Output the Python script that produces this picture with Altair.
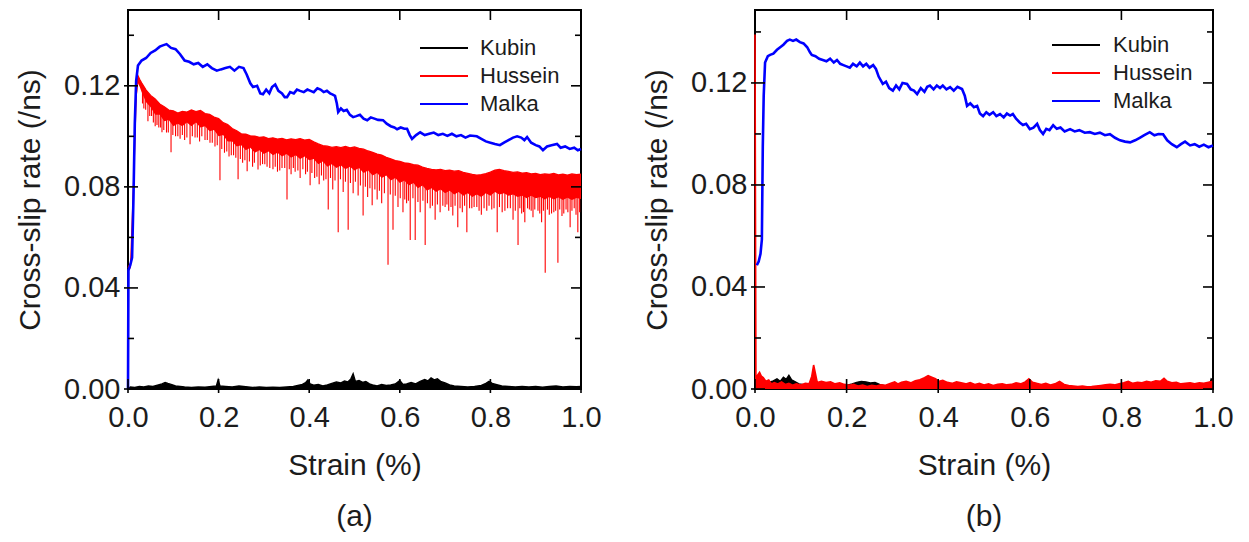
import altair as alt
import pandas as pd

FONT = "Liberation Sans"
TEXT = "#1c1c1c"
SERIES = ["Kubin", "Hussein", "Malka"]
COLORS = ["#000000", "#ff0000", "#0000ff"]
X_TICKS = [0.0, 0.2, 0.4, 0.6, 0.8, 1.0]
Y_TICKS = [0.00, 0.04, 0.08, 0.12]
Y_MINOR = [0.02, 0.06, 0.10, 0.14]
X_TITLE = "Strain (%)"
Y_TITLE = "Cross-slip rate (/ns)"
PANEL_LABELS = ["(a)", "(b)"]

# ---------------- panel (a) ----------------
MALKA_A = [
    (0.000, 0.000), (0.001, 0.047), (0.005, 0.049), (0.009, 0.052), (0.012, 0.075), (0.015, 0.105),
    (0.018, 0.122), (0.022, 0.128), (0.030, 0.130), (0.040, 0.131), (0.050, 0.133), (0.060, 0.134),
    (0.070, 0.1355), (0.077, 0.136), (0.085, 0.1365), (0.095, 0.135), (0.105, 0.1345), (0.115, 0.1325),
    (0.125, 0.130), (0.135, 0.1295), (0.145, 0.1285), (0.155, 0.129), (0.165, 0.1275), (0.175, 0.1285),
    (0.185, 0.127), (0.196, 0.126), (0.205, 0.1265), (0.215, 0.127), (0.225, 0.1275), (0.235, 0.126),
    (0.245, 0.1275), (0.255, 0.127), (0.262, 0.1245), (0.270, 0.121), (0.276, 0.1195), (0.285, 0.120),
    (0.292, 0.117), (0.298, 0.1167), (0.305, 0.1185), (0.312, 0.117), (0.318, 0.1195), (0.325, 0.1205),
    (0.332, 0.118), (0.340, 0.117), (0.346, 0.1155), (0.351, 0.1155), (0.358, 0.1175), (0.366, 0.117),
    (0.373, 0.1185), (0.380, 0.118), (0.388, 0.1175), (0.396, 0.1185), (0.403, 0.118), (0.410, 0.1175),
    (0.418, 0.119), (0.425, 0.1185), (0.432, 0.1175), (0.439, 0.118), (0.446, 0.117), (0.452, 0.1165),
    (0.457, 0.116), (0.461, 0.113), (0.464, 0.1096), (0.470, 0.111), (0.476, 0.110), (0.483, 0.1105),
    (0.490, 0.1085), (0.497, 0.1076), (0.504, 0.108), (0.512, 0.1085), (0.520, 0.107), (0.528, 0.1064),
    (0.536, 0.1075), (0.544, 0.107), (0.552, 0.1065), (0.563, 0.1064), (0.571, 0.105), (0.580, 0.104),
    (0.588, 0.1035), (0.594, 0.1028), (0.602, 0.1035), (0.610, 0.103), (0.616, 0.103), (0.622, 0.1005),
    (0.627, 0.099), (0.636, 0.1005), (0.645, 0.1016), (0.655, 0.1005), (0.665, 0.101), (0.675, 0.1015),
    (0.685, 0.1005), (0.695, 0.101), (0.705, 0.1002), (0.715, 0.101), (0.725, 0.100), (0.735, 0.1005),
    (0.745, 0.0995), (0.755, 0.1003), (0.770, 0.100), (0.780, 0.099), (0.790, 0.098), (0.800, 0.0975),
    (0.810, 0.097), (0.821, 0.0965), (0.830, 0.0975), (0.840, 0.0985), (0.850, 0.0995), (0.859, 0.100),
    (0.868, 0.0995), (0.875, 0.0985), (0.881, 0.0997), (0.890, 0.0975), (0.900, 0.0965), (0.908, 0.096),
    (0.916, 0.0945), (0.925, 0.096), (0.935, 0.0965), (0.947, 0.097), (0.955, 0.0955), (0.965, 0.096),
    (0.975, 0.095), (0.985, 0.0955), (0.993, 0.0945), (1.000, 0.095),
]

# Hussein (a): upper edge and lower edge of the dense noisy band (strain, upper, lower)
HUSSEIN_A_BAND = [
    (0.000, 0.048, 0.046), (0.006, 0.050, 0.048), (0.012, 0.080, 0.078), (0.018, 0.116, 0.113),
    (0.022, 0.124, 0.121), (0.026, 0.1225, 0.1195), (0.030, 0.1212, 0.1175), (0.040, 0.1183, 0.1135),
    (0.050, 0.1162, 0.1115), (0.060, 0.1148, 0.1085), (0.070, 0.1128, 0.1085), (0.080, 0.1117, 0.106),
    (0.090, 0.1104, 0.1065), (0.100, 0.1101, 0.104), (0.110, 0.1092, 0.105), (0.120, 0.1099, 0.104),
    (0.130, 0.1096, 0.1055), (0.140, 0.1104, 0.104), (0.150, 0.1098, 0.1055), (0.160, 0.1102, 0.1035),
    (0.170, 0.1090, 0.104), (0.180, 0.1087, 0.102), (0.190, 0.1076, 0.1025), (0.200, 0.1070, 0.100),
    (0.210, 0.1054, 0.1005), (0.220, 0.1047, 0.098), (0.230, 0.1031, 0.098), (0.240, 0.1022, 0.096),
    (0.250, 0.1010, 0.0965), (0.260, 0.1009, 0.0945), (0.270, 0.1002, 0.0955), (0.280, 0.1001, 0.0935),
    (0.290, 0.0996, 0.0945), (0.300, 0.0998, 0.093), (0.310, 0.0991, 0.094), (0.320, 0.0994, 0.0925),
    (0.330, 0.0989, 0.0935), (0.340, 0.0992, 0.092), (0.350, 0.0986, 0.093), (0.360, 0.0990, 0.0915),
    (0.370, 0.0987, 0.0925), (0.380, 0.0991, 0.091), (0.390, 0.0985, 0.092), (0.400, 0.0988, 0.0905),
    (0.410, 0.0978, 0.091), (0.420, 0.0970, 0.089), (0.430, 0.0963, 0.090), (0.440, 0.0961, 0.088),
    (0.450, 0.0956, 0.089), (0.460, 0.0959, 0.0875), (0.470, 0.0955, 0.0885), (0.480, 0.0960, 0.087),
    (0.490, 0.0954, 0.088), (0.500, 0.0958, 0.0865), (0.510, 0.0952, 0.0875), (0.520, 0.0949, 0.0855),
    (0.530, 0.0942, 0.0865), (0.540, 0.0937, 0.0845), (0.550, 0.0930, 0.0855), (0.560, 0.0926, 0.0835),
    (0.570, 0.0917, 0.0845), (0.580, 0.0911, 0.0825), (0.590, 0.0904, 0.0835), (0.600, 0.0901, 0.0815),
    (0.610, 0.0895, 0.0825), (0.620, 0.0893, 0.0805), (0.630, 0.0888, 0.0815), (0.640, 0.0886, 0.0795),
    (0.650, 0.0878, 0.0805), (0.660, 0.0873, 0.0785), (0.670, 0.0869, 0.0795), (0.680, 0.0867, 0.078),
    (0.690, 0.0869, 0.079), (0.700, 0.0864, 0.0775), (0.710, 0.0866, 0.0785), (0.720, 0.0862, 0.077),
    (0.730, 0.0864, 0.078), (0.740, 0.0857, 0.0765), (0.750, 0.0853, 0.0775), (0.760, 0.0849, 0.076),
    (0.770, 0.0846, 0.077), (0.780, 0.0848, 0.076), (0.790, 0.0852, 0.0775), (0.800, 0.0858, 0.0765),
    (0.810, 0.0866, 0.078), (0.820, 0.0869, 0.077), (0.830, 0.0864, 0.0775), (0.840, 0.0861, 0.0765),
    (0.850, 0.0857, 0.077), (0.860, 0.0859, 0.076), (0.870, 0.0854, 0.0765), (0.880, 0.0856, 0.0755),
    (0.890, 0.0851, 0.0765), (0.900, 0.0853, 0.0755), (0.910, 0.0848, 0.076), (0.920, 0.0851, 0.075),
    (0.930, 0.0849, 0.076), (0.940, 0.0853, 0.075), (0.950, 0.0847, 0.0758), (0.960, 0.0850, 0.0748),
    (0.970, 0.0846, 0.0757), (0.980, 0.0851, 0.0748), (0.990, 0.0848, 0.0756), (1.000, 0.0850, 0.0752),
]

# Hussein (a): downward spikes (strain, top, bottom)
HUSSEIN_A_SPIKES = [
    (0.032, 0.119, 0.113), (0.035, 0.119, 0.111), (0.039, 0.117, 0.1105), (0.044, 0.116, 0.106),
    (0.048, 0.115, 0.108), (0.052, 0.114, 0.108), (0.056, 0.113, 0.1055), (0.060, 0.113, 0.104),
    (0.064, 0.112, 0.1045), (0.068, 0.111, 0.1035), (0.072, 0.111, 0.1035), (0.075, 0.110, 0.1016),
    (0.079, 0.110, 0.1025), (0.085, 0.109, 0.1015), (0.089, 0.108, 0.1015), (0.095, 0.108, 0.0937),
    (0.099, 0.108, 0.1005), (0.105, 0.108, 0.100), (0.110, 0.107, 0.100), (0.115, 0.107, 0.099),
    (0.120, 0.107, 0.1005), (0.125, 0.107, 0.0985), (0.130, 0.107, 0.0995), (0.137, 0.107, 0.0969),
    (0.142, 0.107, 0.100), (0.148, 0.107, 0.0995), (0.153, 0.107, 0.0995), (0.158, 0.107, 0.098),
    (0.163, 0.107, 0.100), (0.170, 0.106, 0.0985), (0.175, 0.106, 0.0985), (0.181, 0.105, 0.0975),
    (0.186, 0.105, 0.0975), (0.192, 0.104, 0.096), (0.197, 0.104, 0.0965), (0.203, 0.103, 0.0826),
    (0.207, 0.102, 0.095), (0.213, 0.102, 0.0935), (0.218, 0.101, 0.094), (0.223, 0.101, 0.092),
    (0.228, 0.100, 0.0925), (0.233, 0.100, 0.0925), (0.238, 0.099, 0.0915), (0.243, 0.099, 0.083),
    (0.248, 0.098, 0.091), (0.253, 0.098, 0.0895), (0.258, 0.097, 0.0905), (0.263, 0.097, 0.0862),
    (0.268, 0.097, 0.090), (0.275, 0.097, 0.088), (0.279, 0.096, 0.0895), (0.287, 0.096, 0.0869),
    (0.292, 0.096, 0.0885), (0.297, 0.096, 0.089), (0.302, 0.096, 0.089), (0.307, 0.096, 0.088),
    (0.313, 0.095, 0.0875), (0.320, 0.095, 0.087), (0.325, 0.095, 0.088), (0.330, 0.095, 0.086),
    (0.335, 0.095, 0.0865), (0.340, 0.095, 0.0875), (0.346, 0.094, 0.0875), (0.351, 0.094, 0.075),
    (0.356, 0.094, 0.087), (0.360, 0.094, 0.085), (0.365, 0.094, 0.0875), (0.369, 0.094, 0.086),
    (0.375, 0.094, 0.0865), (0.380, 0.094, 0.0835), (0.386, 0.094, 0.087), (0.392, 0.093, 0.085),
    (0.396, 0.093, 0.086), (0.402, 0.093, 0.0806), (0.406, 0.093, 0.0855), (0.412, 0.092, 0.0835),
    (0.417, 0.092, 0.084), (0.422, 0.092, 0.081), (0.427, 0.091, 0.0845), (0.432, 0.091, 0.0825),
    (0.437, 0.091, 0.083), (0.442, 0.090, 0.071), (0.447, 0.090, 0.0835), (0.452, 0.090, 0.079),
    (0.457, 0.090, 0.0825), (0.464, 0.090, 0.062), (0.469, 0.089, 0.083), (0.475, 0.089, 0.078),
    (0.480, 0.089, 0.082), (0.486, 0.089, 0.063), (0.491, 0.089, 0.0815), (0.497, 0.089, 0.0775),
    (0.502, 0.089, 0.082), (0.508, 0.088, 0.0766), (0.513, 0.088, 0.0805), (0.519, 0.088, 0.0687),
    (0.524, 0.088, 0.080), (0.529, 0.087, 0.076), (0.534, 0.087, 0.0795), (0.539, 0.087, 0.0727),
    (0.545, 0.087, 0.079), (0.550, 0.086, 0.075), (0.555, 0.086, 0.0785), (0.560, 0.086, 0.0735),
    (0.566, 0.085, 0.0775), (0.574, 0.085, 0.0492), (0.579, 0.085, 0.077), (0.585, 0.084, 0.063),
    (0.590, 0.084, 0.0765), (0.596, 0.084, 0.072), (0.601, 0.083, 0.0755), (0.607, 0.083, 0.070),
    (0.611, 0.083, 0.075), (0.615, 0.083, 0.0735), (0.619, 0.083, 0.0745), (0.623, 0.082, 0.059),
    (0.629, 0.082, 0.0755), (0.634, 0.082, 0.059), (0.640, 0.082, 0.074), (0.645, 0.081, 0.070),
    (0.651, 0.081, 0.0745), (0.656, 0.081, 0.057), (0.661, 0.081, 0.0735), (0.667, 0.080, 0.0715),
    (0.672, 0.080, 0.0725), (0.678, 0.080, 0.067), (0.683, 0.080, 0.073), (0.689, 0.080, 0.070),
    (0.695, 0.080, 0.0725), (0.700, 0.080, 0.072), (0.704, 0.080, 0.073), (0.708, 0.080, 0.0705),
    (0.713, 0.080, 0.072), (0.717, 0.080, 0.0687), (0.722, 0.080, 0.0725), (0.728, 0.079, 0.064),
    (0.733, 0.079, 0.0715), (0.738, 0.079, 0.070), (0.743, 0.079, 0.0725), (0.748, 0.079, 0.062),
    (0.754, 0.079, 0.0715), (0.759, 0.079, 0.0715), (0.764, 0.079, 0.072), (0.770, 0.079, 0.072),
    (0.775, 0.079, 0.0705), (0.780, 0.079, 0.069), (0.786, 0.079, 0.0715), (0.792, 0.079, 0.0705),
    (0.797, 0.079, 0.0725), (0.803, 0.079, 0.071), (0.808, 0.079, 0.0715), (0.815, 0.079, 0.062),
    (0.820, 0.079, 0.072), (0.826, 0.079, 0.070), (0.832, 0.079, 0.0705), (0.838, 0.079, 0.0715),
    (0.844, 0.079, 0.0715), (0.850, 0.079, 0.067), (0.855, 0.079, 0.0705), (0.861, 0.079, 0.057),
    (0.865, 0.078, 0.0715), (0.869, 0.078, 0.0695), (0.873, 0.078, 0.070), (0.876, 0.078, 0.066),
    (0.882, 0.078, 0.0715), (0.886, 0.078, 0.071), (0.890, 0.078, 0.0705), (0.894, 0.078, 0.068),
    (0.898, 0.078, 0.071), (0.905, 0.078, 0.0705), (0.909, 0.078, 0.0695), (0.913, 0.078, 0.066),
    (0.917, 0.078, 0.0705), (0.921, 0.078, 0.046), (0.926, 0.078, 0.071), (0.930, 0.078, 0.069),
    (0.935, 0.078, 0.0695), (0.940, 0.078, 0.070), (0.944, 0.078, 0.0705), (0.949, 0.078, 0.050),
    (0.953, 0.078, 0.071), (0.958, 0.078, 0.0685), (0.962, 0.078, 0.0695), (0.967, 0.078, 0.071),
    (0.971, 0.078, 0.070), (0.976, 0.078, 0.064), (0.980, 0.078, 0.0705), (0.985, 0.078, 0.0715),
    (0.989, 0.078, 0.069), (0.993, 0.078, 0.062), (0.997, 0.078, 0.070),
]

KUBIN_A = [
    (0.000, 0.0000), (0.005, 0.0008), (0.015, 0.0006), (0.025, 0.0010), (0.035, 0.0008), (0.045, 0.0012),
    (0.055, 0.0010), (0.065, 0.0015), (0.075, 0.0020), (0.082, 0.0026), (0.088, 0.0022), (0.095, 0.0018),
    (0.105, 0.0012), (0.115, 0.0010), (0.125, 0.0008), (0.140, 0.0006), (0.155, 0.0008), (0.170, 0.0007),
    (0.185, 0.0010), (0.195, 0.0012), (0.199, 0.0036), (0.203, 0.0012), (0.215, 0.0010), (0.230, 0.0008),
    (0.245, 0.0012), (0.260, 0.0009), (0.275, 0.0006), (0.290, 0.0008), (0.305, 0.0006), (0.320, 0.0007),
    (0.335, 0.0006), (0.350, 0.0008), (0.365, 0.0010), (0.375, 0.0014), (0.385, 0.0018), (0.392, 0.0025),
    (0.397, 0.0036), (0.402, 0.0020), (0.410, 0.0015), (0.420, 0.0018), (0.430, 0.0012), (0.440, 0.0016),
    (0.450, 0.0022), (0.460, 0.0028), (0.470, 0.0024), (0.478, 0.0032), (0.485, 0.0028), (0.492, 0.0040),
    (0.497, 0.0060), (0.502, 0.0030), (0.510, 0.0034), (0.518, 0.0026), (0.525, 0.0030), (0.533, 0.0020),
    (0.540, 0.0016), (0.550, 0.0012), (0.560, 0.0018), (0.570, 0.0014), (0.580, 0.0016), (0.590, 0.0020),
    (0.600, 0.0034), (0.607, 0.0018), (0.615, 0.0020), (0.625, 0.0026), (0.635, 0.0020), (0.645, 0.0030),
    (0.655, 0.0038), (0.662, 0.0032), (0.669, 0.0044), (0.676, 0.0036), (0.683, 0.0040), (0.690, 0.0030),
    (0.700, 0.0024), (0.710, 0.0016), (0.720, 0.0012), (0.735, 0.0010), (0.750, 0.0008), (0.765, 0.0010),
    (0.780, 0.0014), (0.790, 0.0022), (0.797, 0.0030), (0.804, 0.0022), (0.812, 0.0018), (0.825, 0.0012),
    (0.840, 0.0010), (0.855, 0.0008), (0.870, 0.0010), (0.885, 0.0008), (0.900, 0.0010), (0.915, 0.0007),
    (0.930, 0.0010), (0.945, 0.0012), (0.960, 0.0008), (0.975, 0.0010), (0.990, 0.0009), (1.000, 0.0010),
]

# ---------------- panel (b) ----------------
MALKA_B = [
    (0.004, 0.0485), (0.008, 0.050), (0.012, 0.053), (0.015, 0.0586), (0.017, 0.095), (0.019, 0.115),
    (0.022, 0.128), (0.028, 0.1305), (0.033, 0.131), (0.040, 0.1315), (0.048, 0.133), (0.055, 0.134),
    (0.062, 0.135), (0.070, 0.1365), (0.076, 0.137), (0.083, 0.1365), (0.090, 0.137), (0.098, 0.136),
    (0.106, 0.1355), (0.114, 0.134), (0.120, 0.132), (0.124, 0.131), (0.132, 0.1305), (0.140, 0.1295),
    (0.148, 0.129), (0.156, 0.1285), (0.164, 0.1295), (0.172, 0.128), (0.179, 0.129), (0.186, 0.1275),
    (0.193, 0.127), (0.200, 0.1265), (0.207, 0.126), (0.214, 0.1275), (0.222, 0.1265), (0.229, 0.128),
    (0.236, 0.1265), (0.243, 0.1275), (0.250, 0.126), (0.258, 0.127), (0.264, 0.1255), (0.270, 0.1225),
    (0.279, 0.1196), (0.286, 0.1205), (0.293, 0.118), (0.301, 0.117), (0.308, 0.119), (0.315, 0.1175),
    (0.322, 0.120), (0.332, 0.1196), (0.340, 0.1175), (0.347, 0.117), (0.354, 0.1156), (0.362, 0.118),
    (0.370, 0.1165), (0.376, 0.1185), (0.382, 0.119), (0.390, 0.1175), (0.397, 0.119), (0.404, 0.118),
    (0.410, 0.119), (0.418, 0.1175), (0.426, 0.1184), (0.434, 0.117), (0.442, 0.1185), (0.452, 0.1176),
    (0.458, 0.115), (0.463, 0.111), (0.470, 0.112), (0.478, 0.1105), (0.485, 0.111), (0.491, 0.108),
    (0.498, 0.107), (0.505, 0.1085), (0.512, 0.1075), (0.520, 0.1085), (0.527, 0.107), (0.535, 0.1078),
    (0.543, 0.1065), (0.550, 0.108), (0.557, 0.1072), (0.563, 0.1078), (0.570, 0.106), (0.578, 0.1045),
    (0.585, 0.1035), (0.592, 0.104), (0.600, 0.1019), (0.608, 0.1025), (0.616, 0.104), (0.622, 0.1015),
    (0.629, 0.100), (0.636, 0.102), (0.643, 0.1015), (0.651, 0.1034), (0.659, 0.102), (0.667, 0.1025),
    (0.676, 0.101), (0.688, 0.1019), (0.698, 0.101), (0.708, 0.1015), (0.720, 0.1005), (0.731, 0.1007),
    (0.742, 0.100), (0.753, 0.1005), (0.764, 0.0995), (0.775, 0.0999), (0.786, 0.0985), (0.797, 0.0975),
    (0.808, 0.097), (0.819, 0.0967), (0.830, 0.0975), (0.840, 0.0985), (0.850, 0.0995), (0.862, 0.1007),
    (0.872, 0.0995), (0.881, 0.100), (0.891, 0.0999), (0.900, 0.0975), (0.910, 0.096), (0.921, 0.0948),
    (0.930, 0.096), (0.939, 0.097), (0.950, 0.0955), (0.960, 0.096), (0.970, 0.095), (0.980, 0.0958),
    (0.990, 0.0948), (1.000, 0.0955),
]

HUSSEIN_B = [
    (0.000, 0.1390), (0.002, 0.0040), (0.006, 0.0055), (0.010, 0.0065), (0.014, 0.0050), (0.018, 0.0045),
    (0.024, 0.0030), (0.030, 0.0035), (0.036, 0.0020), (0.042, 0.0025), (0.050, 0.0020), (0.058, 0.0028),
    (0.066, 0.0018), (0.074, 0.0022), (0.082, 0.0015), (0.090, 0.0020), (0.100, 0.0016), (0.110, 0.0022),
    (0.118, 0.0020), (0.124, 0.0050), (0.128, 0.0094), (0.132, 0.0060), (0.136, 0.0025), (0.145, 0.0030),
    (0.155, 0.0025), (0.165, 0.0028), (0.175, 0.0020), (0.185, 0.0024), (0.195, 0.0018), (0.205, 0.0015),
    (0.215, 0.0018), (0.225, 0.0012), (0.235, 0.0015), (0.245, 0.0010), (0.255, 0.0014), (0.265, 0.0012),
    (0.275, 0.0016), (0.285, 0.0015), (0.295, 0.0022), (0.305, 0.0028), (0.312, 0.0020), (0.320, 0.0026),
    (0.330, 0.0030), (0.340, 0.0024), (0.350, 0.0032), (0.360, 0.0036), (0.370, 0.0044), (0.378, 0.0052),
    (0.386, 0.0046), (0.394, 0.0040), (0.402, 0.0030), (0.410, 0.0034), (0.420, 0.0026), (0.430, 0.0022),
    (0.440, 0.0028), (0.450, 0.0024), (0.460, 0.0020), (0.470, 0.0025), (0.480, 0.0018), (0.490, 0.0022),
    (0.500, 0.0016), (0.510, 0.0020), (0.520, 0.0014), (0.530, 0.0018), (0.540, 0.0020), (0.550, 0.0016),
    (0.560, 0.0018), (0.570, 0.0024), (0.580, 0.0020), (0.590, 0.0028), (0.598, 0.0040), (0.606, 0.0026),
    (0.615, 0.0022), (0.625, 0.0018), (0.635, 0.0022), (0.645, 0.0016), (0.655, 0.0020), (0.665, 0.0030),
    (0.675, 0.0018), (0.685, 0.0014), (0.695, 0.0012), (0.705, 0.0010), (0.715, 0.0012), (0.725, 0.0009),
    (0.735, 0.0010), (0.745, 0.0012), (0.755, 0.0014), (0.765, 0.0016), (0.775, 0.0018), (0.785, 0.0016),
    (0.795, 0.0020), (0.805, 0.0024), (0.815, 0.0030), (0.825, 0.0022), (0.835, 0.0026), (0.845, 0.0024),
    (0.855, 0.0030), (0.865, 0.0026), (0.875, 0.0032), (0.885, 0.0030), (0.893, 0.0042), (0.900, 0.0030),
    (0.910, 0.0024), (0.920, 0.0026), (0.930, 0.0020), (0.940, 0.0022), (0.950, 0.0024), (0.960, 0.0020),
    (0.970, 0.0024), (0.980, 0.0022), (0.990, 0.0026), (1.000, 0.0030),
]

KUBIN_B = [
    (0.000, 0.0000), (0.010, 0.0010), (0.020, 0.0018), (0.030, 0.0026), (0.040, 0.0032), (0.048, 0.0040),
    (0.055, 0.0030), (0.062, 0.0046), (0.068, 0.0038), (0.074, 0.0054), (0.080, 0.0036), (0.088, 0.0028),
    (0.096, 0.0020), (0.110, 0.0016), (0.125, 0.0012), (0.140, 0.0014), (0.160, 0.0010), (0.180, 0.0012),
    (0.200, 0.0014), (0.212, 0.0020), (0.222, 0.0026), (0.232, 0.0030), (0.242, 0.0028), (0.252, 0.0024),
    (0.262, 0.0026), (0.272, 0.0018), (0.285, 0.0012), (0.300, 0.0008), (0.350, 0.0006), (0.400, 0.0008),
    (0.500, 0.0006), (0.600, 0.0007), (0.700, 0.0006), (0.800, 0.0008), (0.900, 0.0007), (0.985, 0.0009),
    (0.992, 0.0010), (0.996, 0.0040), (1.000, 0.0035),
]


def df(rows, cols):
    return pd.DataFrame(rows, columns=cols)


class Enc:
    """Shared scales and axes for every layer of one panel."""

    def __init__(self, ymax):
        self.xs = alt.Scale(domain=[0, 1], nice=False, zero=False)
        self.ys = alt.Scale(domain=[0, ymax], nice=False, zero=False)
        self.ax = alt.Axis(values=X_TICKS, format=".1f", title=X_TITLE, labelFlush=False)
        self.ay = alt.Axis(values=Y_TICKS, format=".2f", title=Y_TITLE, labelFlush=False)

    def x(self, f):
        return alt.X(f"{f}:Q", scale=self.xs, axis=self.ax)

    def y(self, f):
        return alt.Y(f"{f}:Q", scale=self.ys, axis=self.ay)


def tick_layers(e, W, H, ymax):
    dfx = pd.DataFrame({"t": X_TICKS})
    dfy = pd.DataFrame({"t": Y_TICKS})
    dfm = pd.DataFrame({"t": [m for m in Y_MINOR if m < ymax]})
    st = dict(color="black", strokeWidth=1.6)
    return [
        alt.Chart(dfx).mark_rule(**st).encode(x=e.x("t"), y=alt.value(H - 10), y2=alt.value(H + 4)),
        alt.Chart(dfx).mark_rule(**st).encode(x=e.x("t"), y=alt.value(0), y2=alt.value(10)),
        alt.Chart(dfy).mark_rule(**st).encode(y=e.y("t"), x=alt.value(-4), x2=alt.value(10)),
        alt.Chart(dfy).mark_rule(**st).encode(y=e.y("t"), x=alt.value(W), x2=alt.value(W - 10)),
        alt.Chart(dfm).mark_rule(**st).encode(y=e.y("t"), x=alt.value(0), x2=alt.value(6)),
        alt.Chart(dfm).mark_rule(**st).encode(y=e.y("t"), x=alt.value(W), x2=alt.value(W - 6)),
    ]


def legend_layers(lx, tx, ly):
    out = []
    for i, name in enumerate(SERIES):
        d = pd.DataFrame({"name": [name]})
        out.append(alt.Chart(d).mark_rule(color=COLORS[i], strokeWidth=2).encode(
            x=alt.value(lx), x2=alt.value(lx + 48), y=alt.value(ly[i])))
        out.append(alt.Chart(d).mark_text(align="left", baseline="middle", font=FONT,
                                          fontSize=22, color=TEXT).encode(
            x=alt.value(tx), y=alt.value(ly[i]), text="name:N"))
    return out


def panel_title(label):
    return alt.TitleParams(label, orient="bottom", anchor="middle", frame="group",
                           fontSize=30, font=FONT, fontWeight="normal", color=TEXT, offset=22)


def panel_a(W, H, ymax):
    e = Enc(ymax)
    k = df(KUBIN_A, ["s", "v"])
    hb = df(HUSSEIN_A_BAND, ["s", "u", "l"])
    hs = df(HUSSEIN_A_SPIKES, ["s", "top", "bot"])
    m = df(MALKA_A, ["s", "v"])
    layers = [
        alt.Chart(k).mark_area(color=COLORS[0]).encode(x=e.x("s"), y=e.y("v")),
        alt.Chart(k).mark_line(color=COLORS[0], strokeWidth=1.4).encode(x=e.x("s"), y=e.y("v")),
        alt.Chart(hb).mark_area(color=COLORS[1]).encode(x=e.x("s"), y=e.y("u"), y2="l:Q"),
        alt.Chart(hb).mark_line(color=COLORS[1], strokeWidth=1.3).encode(x=e.x("s"), y=e.y("u")),
        alt.Chart(hs).mark_rule(color=COLORS[1], strokeWidth=1.1).encode(x=e.x("s"), y=e.y("bot"), y2="top:Q"),
        alt.Chart(m).mark_line(color=COLORS[2], strokeWidth=2.6).encode(x=e.x("s"), y=e.y("v")),
    ]
    layers += tick_layers(e, W, H, ymax)
    layers += legend_layers(292, 352, [38, 66, 94])
    return alt.layer(*layers).properties(width=W, height=H, title=panel_title(PANEL_LABELS[0]))


def panel_b(W, H, ymax):
    e = Enc(ymax)
    k = df(KUBIN_B, ["s", "v"])
    h = df(HUSSEIN_B, ["s", "v"])
    m = df(MALKA_B, ["s", "v"])
    layers = [
        alt.Chart(k).mark_area(color=COLORS[0]).encode(x=e.x("s"), y=e.y("v")),
        alt.Chart(k).mark_line(color=COLORS[0], strokeWidth=1.4).encode(x=e.x("s"), y=e.y("v")),
        alt.Chart(h).mark_area(color=COLORS[1]).encode(x=e.x("s"), y=e.y("v")),
        alt.Chart(h).mark_line(color=COLORS[1], strokeWidth=1.6).encode(x=e.x("s"), y=e.y("v")),
        alt.Chart(m).mark_line(color=COLORS[2], strokeWidth=2.6).encode(x=e.x("s"), y=e.y("v")),
    ]
    layers += tick_layers(e, W, H, ymax)
    layers += legend_layers(297, 358, [35, 63, 91])
    return alt.layer(*layers).properties(width=W, height=H, title=panel_title(PANEL_LABELS[1]))


pa = panel_a(453, 379, 0.15)
pb = panel_b(458, 379, 0.1486)

chart = alt.hconcat(pa, pb, spacing=174, bounds="flush").properties(
    padding={"left": 6, "top": 0, "right": 0, "bottom": 0},
    background="white",
).configure_view(
    stroke="black", strokeWidth=2
).configure_axis(
    labelFont=FONT, labelFontSize=29, labelColor=TEXT,
    titleFont=FONT, titleFontSize=30, titleFontWeight="normal", titleColor=TEXT,
    ticks=False, domain=False, grid=False,
).configure_axisX(
    labelPadding=14, titlePadding=18,
).configure_axisY(
    labelPadding=8, titlePadding=18,
)

chart.save("out.html", embed_options={"renderer": "svg", "actions": False})
